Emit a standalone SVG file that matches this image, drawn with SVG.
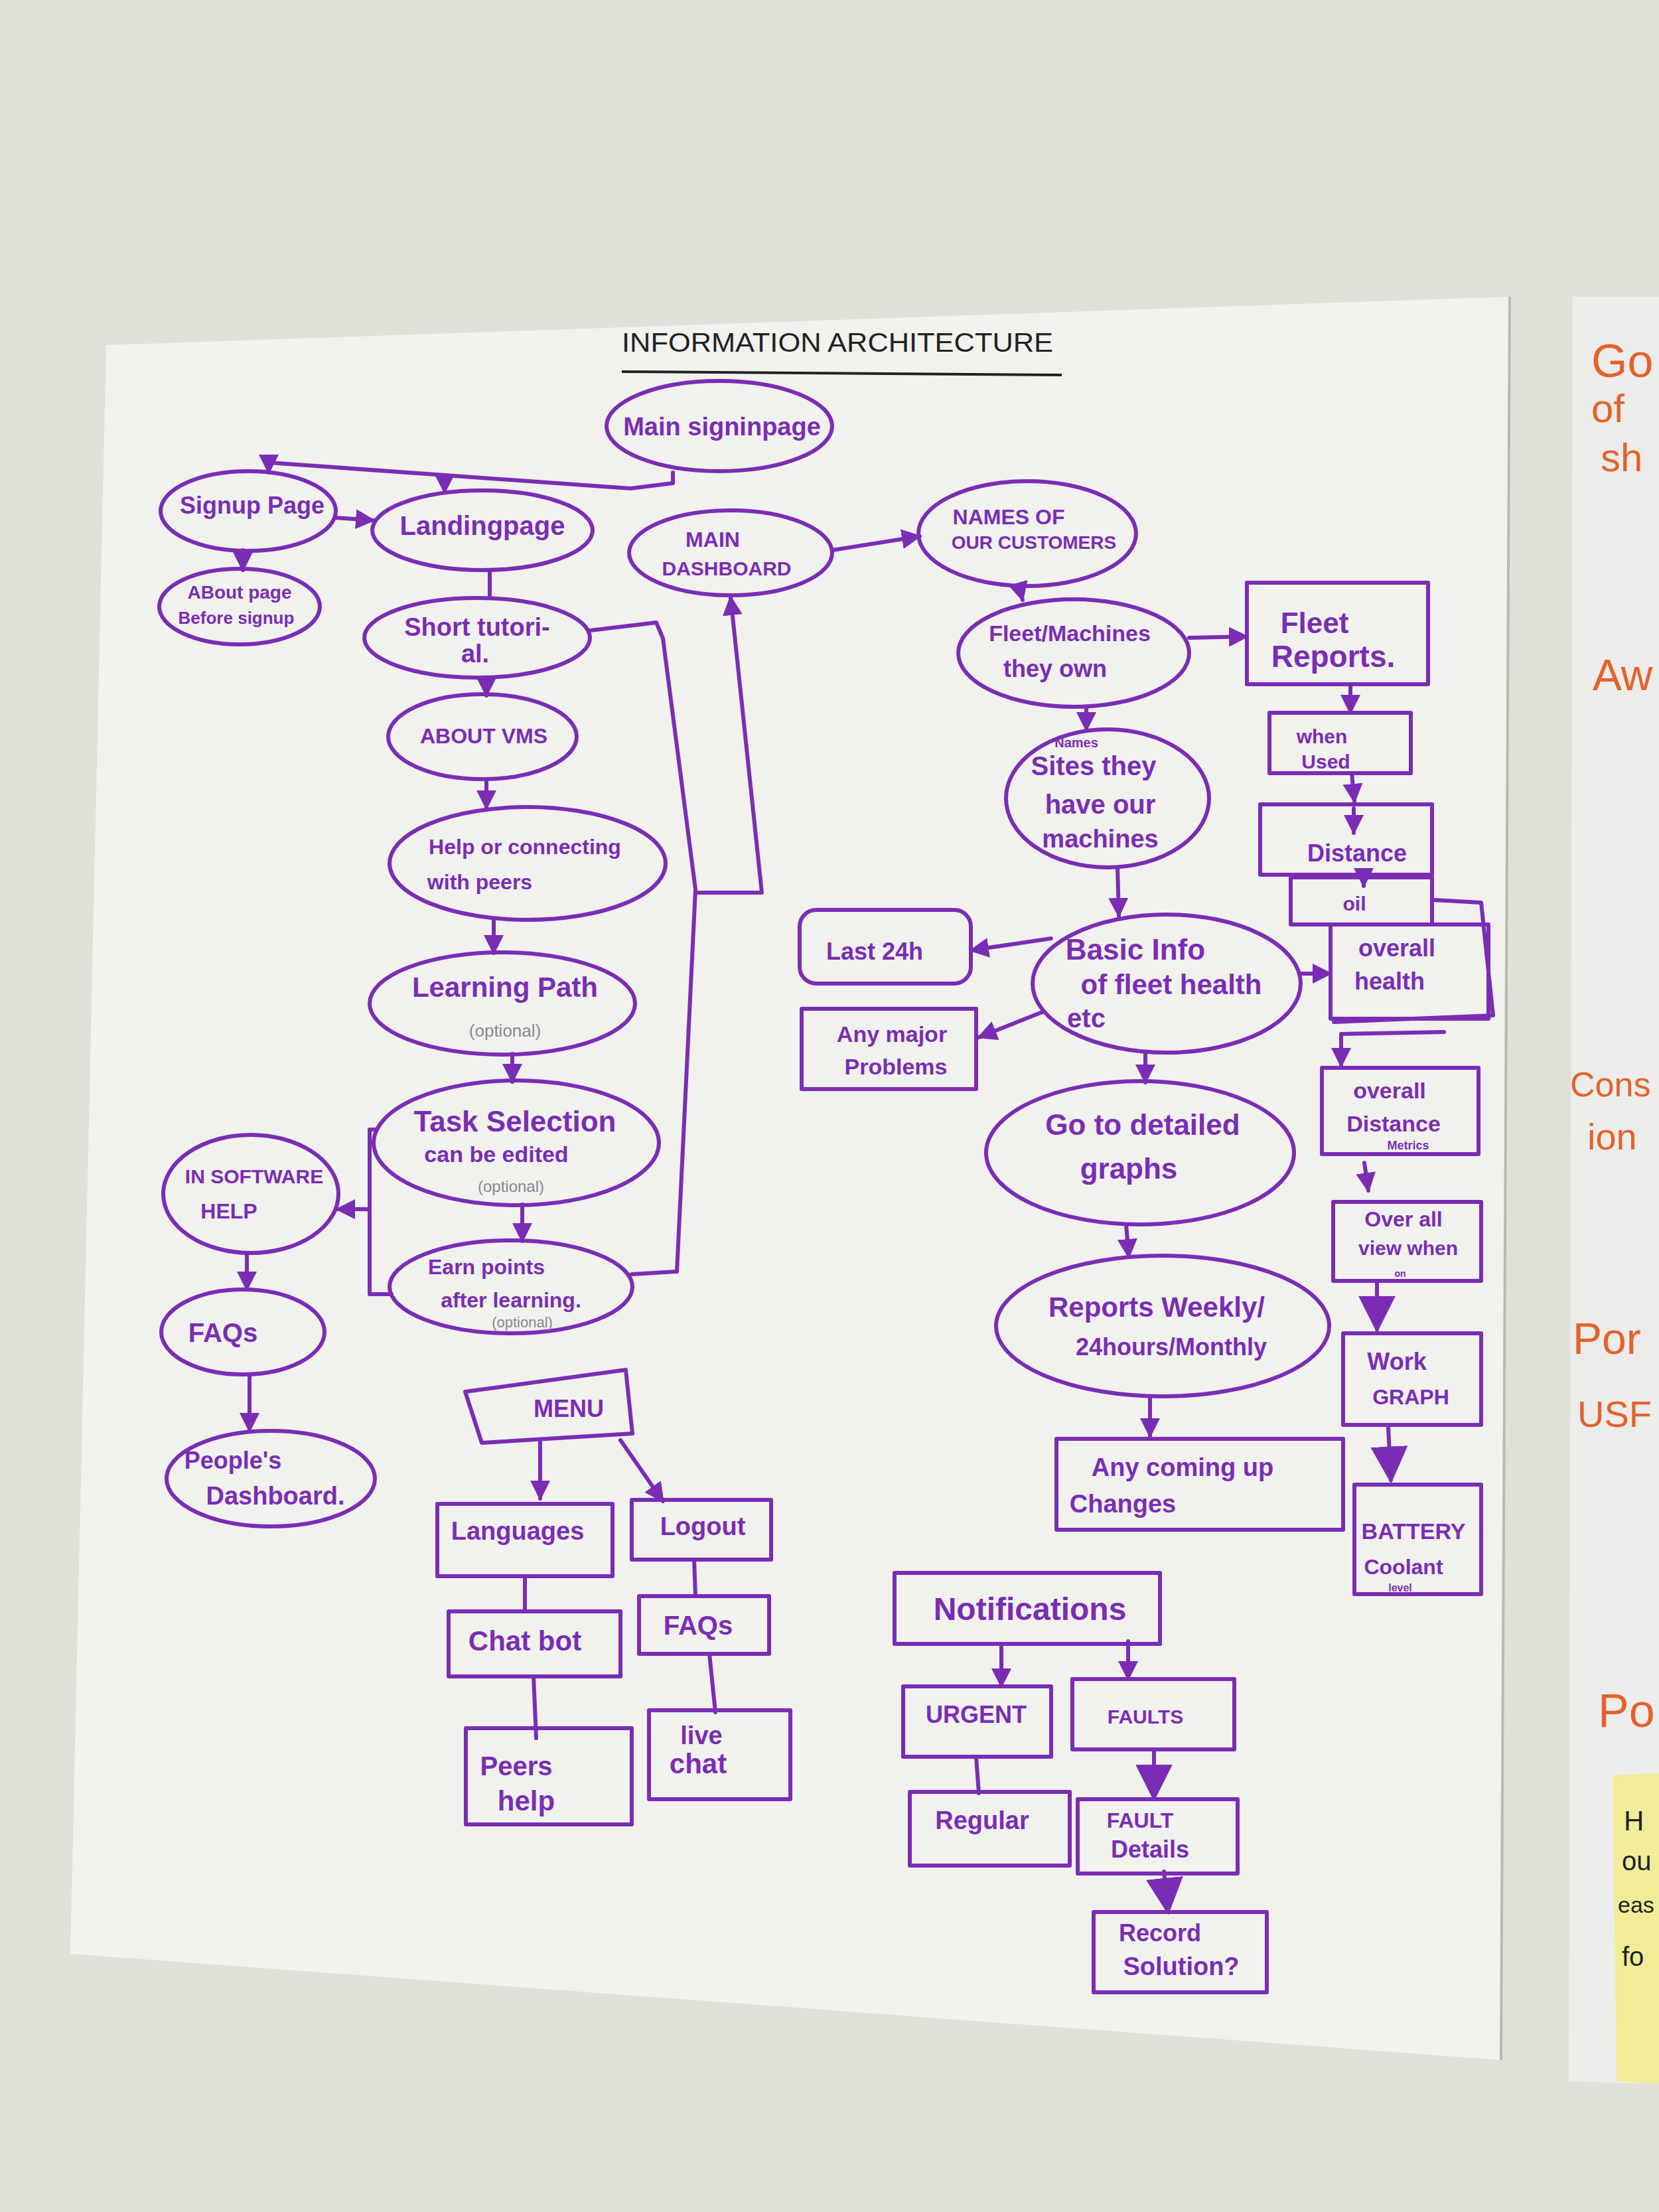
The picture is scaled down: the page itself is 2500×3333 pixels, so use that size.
<svg xmlns="http://www.w3.org/2000/svg" width="2500" height="3333" viewBox="0 0 2500 3333">
<defs>
<style>
.n{fill:none;stroke:#7a2db4;stroke-width:6;stroke-linejoin:round;stroke-linecap:round}
.c{fill:none;stroke:#7a2db4;stroke-width:6;stroke-linejoin:round;stroke-linecap:round}
.t{font-family:"Liberation Sans",Arial,sans-serif;font-weight:700;fill:#7a2db4;text-anchor:middle}
.g{font-family:"Liberation Sans",Arial,sans-serif;font-weight:400;fill:#8a8790;text-anchor:middle}
.o{font-family:"Liberation Sans",Arial,sans-serif;font-weight:400;fill:#e4622c}
.k{font-family:"Liberation Sans",Arial,sans-serif;font-weight:400;fill:#222}
</style>
<marker id="ah" viewBox="0 0 10 10" refX="9" refY="5" markerWidth="30" markerHeight="30" markerUnits="userSpaceOnUse" orient="auto"><path d="M0,0 L10,5 L0,10 z" fill="#7a2db4"/></marker>
<marker id="ab" viewBox="0 0 10 10" refX="9" refY="5" markerWidth="56" markerHeight="56" markerUnits="userSpaceOnUse" orient="auto"><path d="M0,0 L10,5 L0,10 z" fill="#7a2db4"/></marker>
</defs>
<rect x="0" y="0" width="2500" height="3333" fill="#e0e0d8"/>
<polygon points="2370,447 2500,447 2500,3140 2364,3136" fill="#ececea"/>
<polygon points="2430,2675 2500,2672 2500,3140 2436,3136" fill="#f0ec98"/>
<polygon points="160,520 2275,447 2262,3104 106,2944" fill="#f1f1ee"/>
<line x1="2275" y1="447" x2="2262" y2="3104" stroke="#b9b9b3" stroke-width="4"/>

<g id="title">
<text class="k" x="937" y="530" font-size="40" textLength="650" lengthAdjust="spacingAndGlyphs">INFORMATION ARCHITECTURE</text>
<path d="M937 560 L1600 565" stroke="#222" stroke-width="4" fill="none"/>
</g>

<g id="connectors">
<path class="c" d="M1014 712 L1014 728 L950 736 L405 697 L405 712" marker-end="url(#ah)"/>
<path class="c" d="M670 716 L670 742" marker-end="url(#ah)"/>
<path class="c" d="M506 780 L563 784" marker-end="url(#ah)"/>
<path class="c" d="M366 829 L366 859" marker-end="url(#ah)"/>
<path class="c" d="M738 859 L738 901"/>
<path class="c" d="M733 1021 L733 1048" marker-end="url(#ah)"/>
<path class="c" d="M733 1174 L733 1218" marker-end="url(#ah)"/>
<path class="c" d="M744 1386 L744 1436" marker-end="url(#ah)"/>
<path class="c" d="M772 1588 L772 1630" marker-end="url(#ah)"/>
<path class="c" d="M787 1815 L787 1870" marker-end="url(#ah)"/>
<path class="c" d="M889 950 L989 938 L999 962 L1048 1340 L1020 1916 L952 1920"/>
<path class="c" d="M1048 1345 L1148 1345 L1101 900" marker-end="url(#ah)"/>
<path class="c" d="M568 1702 L557 1702 L557 1950 L590 1950"/>
<path class="c" d="M557 1822 L508 1822" marker-end="url(#ah)"/>
<path class="c" d="M372 1888 L372 1943" marker-end="url(#ah)"/>
<path class="c" d="M376 2071 L376 2156" marker-end="url(#ah)"/>
<path class="c" d="M1254 829 L1386 808" marker-end="url(#ah)"/>
<path class="c" d="M1535 882 L1541 904" marker-end="url(#ah)"/>
<path class="c" d="M1792 961 L1879 959" marker-end="url(#ah)"/>
<path class="c" d="M1637 1065 L1637 1100" marker-end="url(#ah)"/>
<path class="c" d="M1684 1307 L1686 1380" marker-end="url(#ah)"/>
<path class="c" d="M1584 1414 L1463 1432" marker-end="url(#ah)"/>
<path class="c" d="M1573 1524 L1475 1563" marker-end="url(#ah)"/>
<path class="c" d="M1958 1467 L2005 1467" marker-end="url(#ah)"/>
<path class="c" d="M1726 1586 L1726 1631" marker-end="url(#ah)"/>
<path class="c" d="M1697 1845 L1701 1894" marker-end="url(#ah)"/>
<path class="c" d="M1733 2104 L1733 2164" marker-end="url(#ah)"/>
<path class="c" d="M2035 1031 L2035 1074" marker-end="url(#ah)"/>
<path class="c" d="M2037 1165 L2041 1208" marker-end="url(#ah)"/>
<path class="c" d="M2040 1218 L2040 1255" marker-end="url(#ah)"/>
<path class="c" d="M2055 1318 L2055 1335" marker-end="url(#ah)"/>
<path class="c" d="M2176 1555 L2021 1558 L2021 1606" marker-end="url(#ah)"/>
<path class="c" d="M2056 1752 L2062 1794" marker-end="url(#ah)"/>
<path class="c" d="M2075 1930 L2075 2003" marker-end="url(#ab)"/>
<path class="c" d="M2092 2151 L2096 2230" marker-end="url(#ab)"/>
<path class="c" d="M814 2172 L814 2258" marker-end="url(#ah)"/>
<path class="c" d="M935 2170 L999 2262" marker-end="url(#ah)"/>
<path class="c" d="M791 2375 L791 2426"/>
<path class="c" d="M804 2526 L808 2619"/>
<path class="c" d="M1046 2350 L1048 2405"/>
<path class="c" d="M1069 2492 L1078 2580"/>
<path class="c" d="M1509 2477 L1509 2541" marker-end="url(#ah)"/>
<path class="c" d="M1700 2473 L1700 2530" marker-end="url(#ah)"/>
<path class="c" d="M1471 2647 L1475 2702"/>
<path class="c" d="M1739 2636 L1739 2709" marker-end="url(#ab)"/>
<path class="c" d="M1754 2820 L1760 2880" marker-end="url(#ab)"/>
</g>

<g id="n-signin"><ellipse class="n" cx="1084" cy="642" rx="170" ry="68"/><text class="t" x="1088" y="656" font-size="38">Main signinpage</text></g>
<g id="n-signup"><ellipse class="n" cx="374" cy="770" rx="132" ry="60"/><text class="t" x="380" y="774" font-size="36">Signup Page</text></g>
<g id="n-landing"><ellipse class="n" cx="727" cy="799" rx="166" ry="60"/><text class="t" x="727" y="806" font-size="40">Landingpage</text></g>
<g id="n-about"><ellipse class="n" cx="361" cy="914" rx="121" ry="57"/><text class="t" x="361" y="902" font-size="28">ABout page</text><text class="t" x="356" y="940" font-size="26">Before signup</text></g>
<g id="n-short"><ellipse class="n" cx="719" cy="961" rx="170" ry="60"/><text class="t" x="719" y="958" font-size="38">Short tutori-</text><text class="t" x="716" y="998" font-size="38">al.</text></g>
<g id="n-vms"><ellipse class="n" cx="727" cy="1110" rx="142" ry="64"/><text class="t" x="729" y="1120" font-size="32">ABOUT VMS</text></g>
<g id="n-help"><ellipse class="n" cx="795" cy="1301" rx="208" ry="85"/><text class="t" x="791" y="1287" font-size="32">Help or connecting</text><text class="t" x="723" y="1340" font-size="32">with peers</text></g>
<g id="n-learn"><ellipse class="n" cx="757" cy="1512" rx="200" ry="77"/><text class="t" x="761" y="1502" font-size="42">Learning Path</text><text class="g" x="761" y="1562" font-size="26">(optional)</text></g>
<g id="n-task"><ellipse class="n" cx="778" cy="1722" rx="215" ry="94"/><text class="t" x="776" y="1705" font-size="44">Task Selection</text><text class="t" x="748" y="1751" font-size="34">can be edited</text><text class="g" x="770" y="1796" font-size="24">(optional)</text></g>
<g id="n-earn"><ellipse class="n" cx="770" cy="1939" rx="183" ry="70"/><text class="t" x="733" y="1920" font-size="32">Earn points</text><text class="t" x="770" y="1970" font-size="32">after learning.</text><text class="g" x="787" y="2000" font-size="22">(optional)</text></g>
<g id="n-insw"><ellipse class="n" cx="378" cy="1799" rx="132" ry="89"/><text class="t" x="383" y="1783" font-size="30">IN SOFTWARE</text><text class="t" x="345" y="1836" font-size="32">HELP</text></g>
<g id="n-faqs"><ellipse class="n" cx="366" cy="2007" rx="123" ry="64"/><text class="t" x="336" y="2022" font-size="40">FAQs</text></g>
<g id="n-people"><ellipse class="n" cx="408" cy="2228" rx="157" ry="72"/><text class="t" x="351" y="2213" font-size="36">People's</text><text class="t" x="415" y="2267" font-size="38">Dashboard.</text></g>
<g id="n-maindash"><ellipse class="n" cx="1101" cy="833" rx="153" ry="64"/><text class="t" x="1074" y="824" font-size="32">MAIN</text><text class="t" x="1095" y="867" font-size="30">DASHBOARD</text></g>
<g id="n-names"><ellipse class="n" cx="1548" cy="804" rx="164" ry="79"/><text class="t" x="1520" y="790" font-size="32">NAMES OF</text><text class="t" x="1558" y="827" font-size="28">OUR CUSTOMERS</text></g>
<g id="n-fleet"><ellipse class="n" cx="1618" cy="984" rx="174" ry="81"/><text class="t" x="1612" y="966" font-size="34">Fleet/Machines</text><text class="t" x="1590" y="1020" font-size="36">they own</text></g>
<g id="n-sites"><ellipse class="n" cx="1669" cy="1203" rx="153" ry="104"/><text class="t" x="1622" y="1126" font-size="20">Names</text><text class="t" x="1648" y="1168" font-size="40">Sites they</text><text class="t" x="1658" y="1226" font-size="40">have our</text><text class="t" x="1658" y="1277" font-size="38">machines</text></g>
<g id="n-basic"><ellipse class="n" cx="1758" cy="1482" rx="202" ry="104"/><text class="t" x="1711" y="1446" font-size="44">Basic Info</text><text class="t" x="1765" y="1498" font-size="42">of fleet health</text><text class="t" x="1637" y="1548" font-size="40">etc</text></g>
<g id="n-last24"><rect class="n" x="1205" y="1371" width="258" height="111" rx="25"/><text class="t" x="1318" y="1446" font-size="36">Last 24h</text></g>
<g id="n-major"><rect class="n" x="1208" y="1520" width="263" height="121"/><text class="t" x="1344" y="1570" font-size="34">Any major</text><text class="t" x="1350" y="1619" font-size="34">Problems</text></g>
<g id="n-go"><ellipse class="n" cx="1718" cy="1737" rx="232" ry="108"/><text class="t" x="1722" y="1710" font-size="44">Go to detailed</text><text class="t" x="1701" y="1776" font-size="44">graphs</text></g>
<g id="n-reports"><ellipse class="n" cx="1752" cy="1998" rx="251" ry="106"/><text class="t" x="1743" y="1984" font-size="42">Reports Weekly/</text><text class="t" x="1765" y="2042" font-size="36">24hours/Monthly</text></g>
<g id="n-coming"><rect class="n" x="1592" y="2168" width="432" height="137"/><text class="t" x="1782" y="2224" font-size="38">Any coming up</text><text class="t" x="1692" y="2279" font-size="38">Changes</text></g>
<g id="n-fleetrep"><rect class="n" x="1879" y="878" width="273" height="153"/><text class="t" x="1981" y="954" font-size="44">Fleet</text><text class="t" x="2009" y="1005" font-size="46">Reports.</text></g>
<g id="n-when"><rect class="n" x="1913" y="1074" width="213" height="91"/><text class="t" x="1992" y="1120" font-size="30">when</text><text class="t" x="1998" y="1158" font-size="30">Used</text></g>
<g id="n-distance"><rect class="n" x="1899" y="1212" width="259" height="106"/><text class="t" x="2045" y="1298" font-size="36">Distance</text></g>
<g id="n-oil"><rect class="n" x="1945" y="1322" width="213" height="71"/><text class="t" x="2041" y="1372" font-size="30">oil</text></g>
<g id="n-overhealth"><rect class="n" x="2005" y="1393" width="238" height="142"/><path class="n" d="M2160 1356 L2232 1360 L2250 1530 L2010 1540"/><text class="t" x="2105" y="1441" font-size="36">overall</text><text class="t" x="2094" y="1491" font-size="36">health</text></g>
<g id="n-ovdist"><rect class="n" x="1992" y="1609" width="236" height="130"/><text class="t" x="2094" y="1655" font-size="34">overall</text><text class="t" x="2100" y="1705" font-size="34">Distance</text><text class="t" x="2122" y="1732" font-size="18">Metrics</text></g>
<g id="n-ovview"><rect class="n" x="2009" y="1811" width="223" height="119"/><text class="t" x="2115" y="1848" font-size="32">Over all</text><text class="t" x="2122" y="1891" font-size="30">view when</text><text class="t" x="2110" y="1924" font-size="14">on</text></g>
<g id="n-work"><rect class="n" x="2024" y="2009" width="208" height="138"/><text class="t" x="2105" y="2064" font-size="36">Work</text><text class="t" x="2126" y="2116" font-size="32">GRAPH</text></g>
<g id="n-battery"><rect class="n" x="2041" y="2237" width="191" height="165"/><text class="t" x="2130" y="2319" font-size="34">BATTERY</text><text class="t" x="2115" y="2372" font-size="32">Coolant</text><text class="t" x="2110" y="2398" font-size="16">level</text></g>
<g id="n-menu"><polygon class="n" points="701,2097 943,2064 953,2160 726,2174"/><text class="t" x="857" y="2135" font-size="36">MENU</text></g>
<g id="n-languages"><rect class="n" x="659" y="2266" width="264" height="109"/><text class="t" x="780" y="2320" font-size="38">Languages</text></g>
<g id="n-logout"><rect class="n" x="952" y="2260" width="210" height="90"/><text class="t" x="1059" y="2313" font-size="38">Logout</text></g>
<g id="n-chatbot"><rect class="n" x="676" y="2428" width="259" height="98"/><text class="t" x="791" y="2487" font-size="42">Chat bot</text></g>
<g id="n-faqs2"><rect class="n" x="963" y="2405" width="196" height="87"/><text class="t" x="1052" y="2463" font-size="40">FAQs</text></g>
<g id="n-peers"><rect class="n" x="702" y="2604" width="250" height="145"/><text class="t" x="778" y="2675" font-size="40">Peers</text><text class="t" x="793" y="2728" font-size="42">help</text></g>
<g id="n-live"><rect class="n" x="978" y="2577" width="213" height="134"/><text class="t" x="1057" y="2628" font-size="38">live</text><text class="t" x="1052" y="2672" font-size="42">chat</text></g>
<g id="n-notif"><rect class="n" x="1348" y="2370" width="400" height="107"/><text class="t" x="1552" y="2441" font-size="48">Notifications</text></g>
<g id="n-urgent"><rect class="n" x="1361" y="2541" width="223" height="106"/><text class="t" x="1471" y="2596" font-size="36">URGENT</text></g>
<g id="n-faults"><rect class="n" x="1616" y="2530" width="244" height="106"/><text class="t" x="1726" y="2597" font-size="30">FAULTS</text></g>
<g id="n-regular"><rect class="n" x="1371" y="2700" width="241" height="111"/><text class="t" x="1480" y="2756" font-size="38">Regular</text></g>
<g id="n-faultdet"><rect class="n" x="1624" y="2711" width="241" height="112"/><text class="t" x="1718" y="2754" font-size="32">FAULT</text><text class="t" x="1733" y="2799" font-size="36">Details</text></g>
<g id="n-record"><rect class="n" x="1648" y="2881" width="261" height="121"/><text class="t" x="1748" y="2925" font-size="36">Record</text><text class="t" x="1780" y="2976" font-size="38">Solution?</text></g>

<g id="side-sheet">
<text class="o" x="2398" y="568" font-size="70">Go</text>
<text class="o" x="2398" y="636" font-size="60">of</text>
<text class="o" x="2412" y="710" font-size="60">sh</text>
<text class="o" x="2400" y="1040" font-size="66">Aw</text>
<text class="o" x="2366" y="1652" font-size="52">Cons</text>
<text class="o" x="2392" y="1732" font-size="56">ion</text>
<text class="o" x="2370" y="2040" font-size="66">Por</text>
<text class="o" x="2377" y="2150" font-size="56">USF</text>
<text class="o" x="2408" y="2602" font-size="70">Po</text>
<text class="k" x="2447" y="2758" font-size="42">H</text>
<text class="k" x="2444" y="2818" font-size="40">ou</text>
<text class="k" x="2438" y="2882" font-size="34">eas</text>
<text class="k" x="2444" y="2962" font-size="40">fo</text>
</g>
</svg>
